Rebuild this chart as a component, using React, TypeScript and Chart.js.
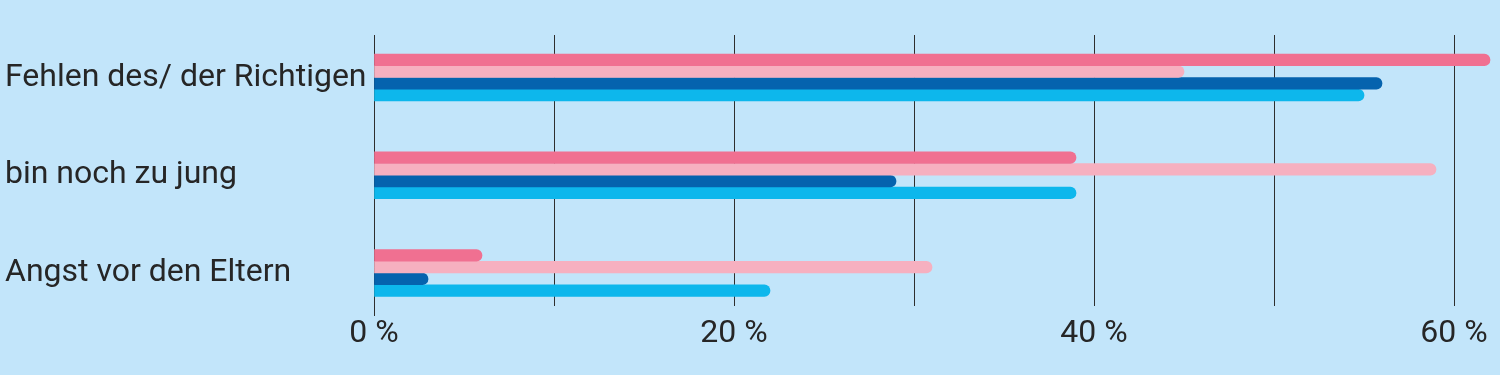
import React, { useEffect, useRef } from "react";
import { Chart, registerables } from "chart.js";

Chart.register(...registerables);

const categories = ["Fehlen des/ der Richtigen", "bin noch zu jung", "Angst vor den Eltern"];
const seriesPink = [62, 39, 6];
const seriesLightPink = [45, 59, 31];
const seriesDarkBlue = [56, 29, 3];
const seriesCyan = [55, 39, 22];
const xTickValues = [0, 20, 40, 60];

const BG = "#c2e5fa";
const TEXT = "#262626";
const GRID = "#2e2e2e";
const FONT = "Roboto";

function toPoints(values: number[]) {
  return values.map((v, i) => ({ x: v, y: i }));
}

export default function App() {
  const ref = useRef<HTMLCanvasElement | null>(null);

  useEffect(() => {
    if (!ref.current) return;
    const mk = (label: string, values: number[], color: string) => ({
      label,
      data: toPoints(values),
      backgroundColor: color,
      borderWidth: 0,
      borderRadius: 6,
      borderSkipped: "start" as const,
      barThickness: 11.75,
    });
    const chart = new Chart(ref.current, {
      type: "bar",
      data: {
        datasets: [
          mk("a", seriesPink, "#f07091"),
          mk("b", seriesLightPink, "#f6b0c0"),
          mk("c", seriesDarkBlue, "#0563ae"),
          mk("d", seriesCyan, "#0db7ec"),
        ],
      },
      options: {
        indexAxis: "y",
        animation: false,
        responsive: false,
        maintainAspectRatio: false,
        layout: { padding: { left: 5, top: 35, right: 1, bottom: 0 } },
        plugins: { legend: { display: false }, tooltip: { enabled: false }, title: { display: false } },
        scales: {
          x: {
            type: "linear",
            min: 0,
            max: 62.5,
            position: "bottom",
            border: { display: false },
            grid: {
              color: GRID,
              lineWidth: 1,
              drawTicks: true,
              tickLength: 10,
              tickColor: (ctx: any) => (ctx.tick && ctx.tick.value === 0 ? GRID : "rgba(0,0,0,0)"),
            },
            ticks: {
              stepSize: 10,
              includeBounds: false,
              padding: -1,
              color: TEXT,
              font: { family: FONT, size: 32 },
              maxRotation: 0,
              autoSkip: false,
              callback: (v: any) => (xTickValues.includes(Number(v)) ? `${v} %` : ""),
            },
            afterFit: (scale: any) => {
              scale.height = 69;
            },
          },
          y: {
            type: "linear",
            reverse: true,
            offset: false,
            min: -0.4348,
            max: 2.3376,
            border: { display: false },
            grid: { display: false, offset: false },
            ticks: {
              color: TEXT,
              font: { family: FONT, size: 32 },
              crossAlign: "far",
              padding: 0,
              autoSkip: false,
              callback: (v: any) => categories[Number(v)] ?? "",
            },
            afterBuildTicks: (scale: any) => {
              scale.ticks = categories.map((_, i) => ({ value: i }));
            },
            afterFit: (scale: any) => {
              scale.width = 369;
            },
          },
        },
      },
    });
    return () => chart.destroy();
  }, []);

  return (
    <div style={{ position: "fixed", left: 0, top: 0, width: 1500, height: 375, background: BG }}>
      <canvas ref={ref} width={1500} height={375} style={{ display: "block", width: 1500, height: 375 }} />
    </div>
  );
}
